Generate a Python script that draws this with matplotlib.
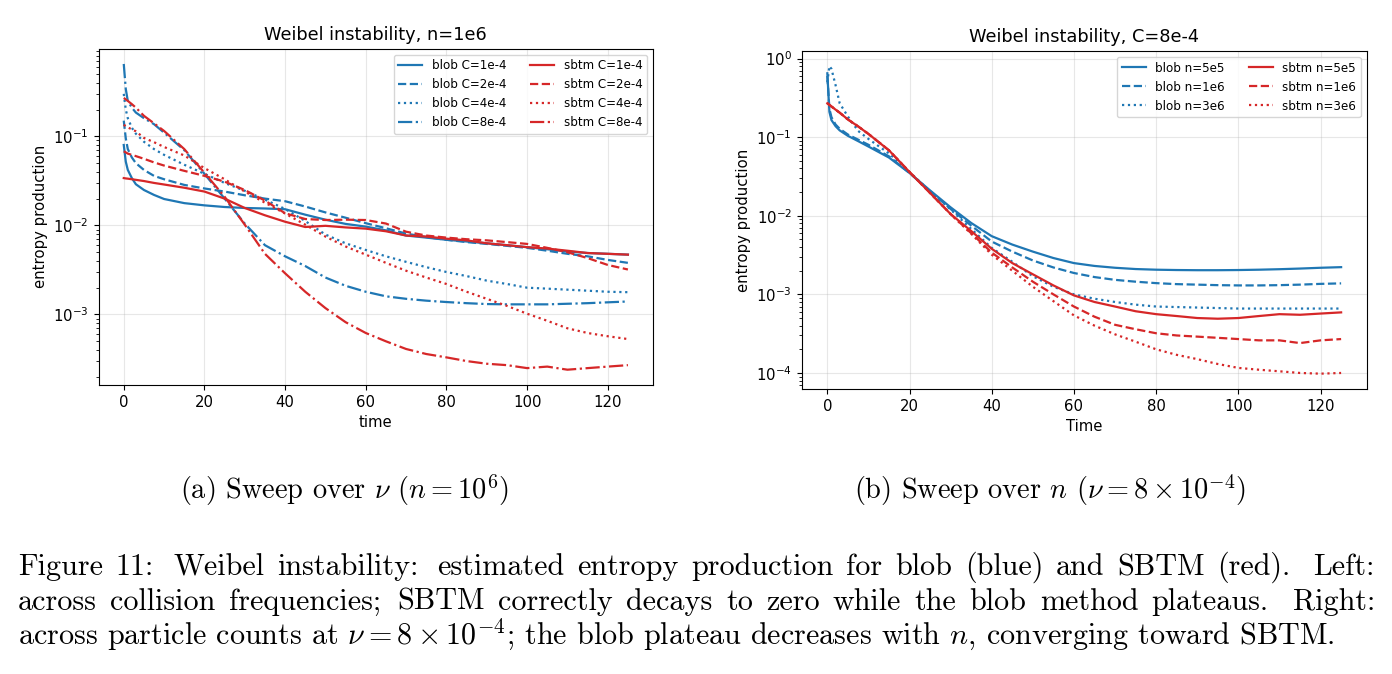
import matplotlib
matplotlib.use('Agg')
import matplotlib.pyplot as plt

plt.rcParams['mathtext.fontset'] = 'cm'

# time samples (both panels)
t = [0, 0.5, 1, 2, 3, 5, 7.5, 10, 15, 20, 25, 30, 35, 40, 45, 50, 55, 60,
     65, 70, 75, 80, 85, 90, 95, 100, 105, 110, 115, 120, 125]

# left panel: sweep over C, n=1e6
c_labels = ['C=1e-4', 'C=2e-4', 'C=4e-4', 'C=8e-4']
blob_c1 = [0.08, 0.052, 0.042, 0.034, 0.029, 0.025, 0.022, 0.0198, 0.0178, 0.0168, 0.0161,
           0.0157, 0.0155, 0.0152, 0.0132, 0.0116, 0.0104, 0.0097, 0.0088, 0.0077, 0.0073,
           0.0069, 0.0066, 0.0063, 0.006, 0.0057, 0.0054, 0.0051, 0.0049, 0.0048, 0.0047]
blob_c2 = [0.15, 0.095, 0.072, 0.058, 0.05, 0.042, 0.036, 0.033, 0.0285, 0.026, 0.024,
           0.0218, 0.02, 0.0187, 0.0163, 0.014, 0.0122, 0.0106, 0.0093, 0.0081, 0.0074,
           0.0069, 0.0065, 0.0062, 0.0059, 0.0056, 0.0052, 0.0048, 0.0045, 0.0041, 0.0038]
blob_c4 = [0.3, 0.2, 0.16, 0.125, 0.107, 0.087, 0.072, 0.062, 0.048, 0.038, 0.03,
           0.0245, 0.0195, 0.0153, 0.0112, 0.0079, 0.0063, 0.0053, 0.0045, 0.0039, 0.0034,
           0.003, 0.0027, 0.0024, 0.0022, 0.002, 0.00195, 0.0019, 0.00185, 0.0018, 0.00178]
blob_c8 = [0.65, 0.34, 0.25, 0.21, 0.185, 0.16, 0.137, 0.11, 0.07, 0.038, 0.02,
           0.0105, 0.006, 0.0045, 0.0035, 0.0026, 0.0021, 0.0018, 0.0016, 0.0015, 0.00143,
           0.00138, 0.00134, 0.00131, 0.0013, 0.0013, 0.0013, 0.00132, 0.00134, 0.00137, 0.0014]
sbtm_c1 = [0.034, 0.0337, 0.0335, 0.033, 0.0325, 0.0315, 0.03, 0.0288, 0.0265, 0.024, 0.02,
           0.0157, 0.013, 0.011, 0.0096, 0.0099, 0.0095, 0.0092, 0.0086, 0.0077, 0.0075,
           0.0071, 0.0068, 0.0063, 0.006, 0.0057, 0.0055, 0.0052, 0.0049, 0.0048, 0.0047]
sbtm_c2 = [0.068, 0.066, 0.064, 0.062, 0.06, 0.056, 0.051, 0.047, 0.041, 0.036, 0.031,
           0.025, 0.019, 0.0137, 0.0118, 0.0115, 0.0116, 0.0115, 0.0105, 0.0085, 0.0077,
           0.0073, 0.007, 0.0068, 0.0065, 0.0062, 0.0056, 0.005, 0.0043, 0.0036, 0.0032]
sbtm_c4 = [0.135, 0.13, 0.126, 0.12, 0.114, 0.096, 0.086, 0.076, 0.061, 0.044, 0.033,
           0.024, 0.018, 0.0136, 0.0102, 0.0075, 0.0058, 0.0047, 0.0038, 0.0031, 0.0026,
           0.0022, 0.0018, 0.0015, 0.00125, 0.00102, 0.00085, 0.0007, 0.00062, 0.00057, 0.00053]
sbtm_c8 = [0.27, 0.26, 0.25, 0.23, 0.21, 0.17, 0.14, 0.115, 0.072, 0.039, 0.021,
           0.0102, 0.0048, 0.0029, 0.0018, 0.00118, 0.00082, 0.00062, 0.0005, 0.00041, 0.00036,
           0.00033, 0.0003, 0.00028, 0.00027, 0.00025, 0.00026, 0.00024, 0.00025, 0.00026, 0.00027]

# right panel: sweep over n, C=8e-4
n_labels = ['n=5e5', 'n=1e6', 'n=3e6']
blob_n5e5 = [0.65, 0.21, 0.165, 0.138, 0.122, 0.104, 0.089, 0.076, 0.055, 0.035, 0.021,
             0.0128, 0.0081, 0.0055, 0.0043, 0.0035, 0.0029, 0.0025, 0.0023, 0.00218, 0.0021,
             0.00206, 0.00204, 0.00203, 0.00203, 0.00204, 0.00206, 0.00209, 0.00213, 0.00218, 0.00222]
blob_n1e6 = [0.6, 0.23, 0.18, 0.145, 0.128, 0.108, 0.093, 0.08, 0.057, 0.035, 0.0205,
             0.0122, 0.0075, 0.0047, 0.0035, 0.0027, 0.0022, 0.00187, 0.00166, 0.00153, 0.00145,
             0.00139, 0.00135, 0.00133, 0.00131, 0.0013, 0.0013, 0.00131, 0.00133, 0.00136, 0.00138]
blob_n3e6 = [0.5, 0.8, 0.74, 0.46, 0.27, 0.183, 0.12, 0.095, 0.062, 0.036, 0.0205,
             0.012, 0.0068, 0.0039, 0.0026, 0.0017, 0.00125, 0.001, 0.00088, 0.0008, 0.00074,
             0.0007, 0.00069, 0.00068, 0.00067, 0.00066, 0.00066, 0.00066, 0.00066, 0.00066, 0.00066]
sbtm_n5e5 = [0.27, 0.258, 0.246, 0.224, 0.205, 0.168, 0.137, 0.11, 0.068, 0.036, 0.0195,
             0.0105, 0.0064, 0.0038, 0.0025, 0.0018, 0.0013, 0.00097, 0.0008, 0.0007, 0.00061,
             0.00056, 0.00053, 0.0005, 0.00049, 0.0005, 0.00053, 0.00056, 0.00055, 0.00057, 0.00059]
sbtm_n1e6 = [0.27, 0.258, 0.246, 0.224, 0.205, 0.168, 0.137, 0.11, 0.068, 0.036, 0.0195,
             0.0105, 0.006, 0.0034, 0.0022, 0.00145, 0.001, 0.0007, 0.00052, 0.00041, 0.00036,
             0.00032, 0.0003, 0.00029, 0.00028, 0.00027, 0.00026, 0.00026, 0.00024, 0.00026, 0.00027]
sbtm_n3e6 = [0.27, 0.258, 0.246, 0.224, 0.205, 0.168, 0.137, 0.11, 0.068, 0.036, 0.0195,
             0.0105, 0.0059, 0.0032, 0.002, 0.00125, 0.00082, 0.00054, 0.0004, 0.00031, 0.00025,
             0.0002, 0.00017, 0.00015, 0.00013, 0.000116, 0.00011, 0.000105, 0.0001, 0.000098, 0.0001]

blue = '#1f77b4'
red = '#d62728'
styles = ['-', '--', ':', '-.']

fig = plt.figure(figsize=(13.92, 6.74), dpi=100)

# left plot
ax1 = fig.add_axes([0.0708, 0.4288, 0.3984, 0.499])
for y, lab, ls in zip([blob_c1, blob_c2, blob_c4, blob_c8], c_labels, styles):
    ax1.plot(t, y, color=blue, ls=ls, lw=1.6, label='blob ' + lab)
for y, lab, ls in zip([sbtm_c1, sbtm_c2, sbtm_c4, sbtm_c8], c_labels, styles):
    ax1.plot(t, y, color=red, ls=ls, lw=1.6, label='sbtm ' + lab)
ax1.set_yscale('log')
ax1.set_title('Weibel instability, n=1e6', fontsize=12.8)
ax1.set_xlabel('time', fontsize=10.7)
ax1.set_ylabel('entropy production', fontsize=10.7)
ax1.grid(True, alpha=0.3)
ax1.legend(ncol=2, fontsize=8.6, loc='upper right')

# right plot
ax2 = fig.add_axes([0.5759, 0.4228, 0.406, 0.5018])
for y, lab, ls in zip([blob_n5e5, blob_n1e6, blob_n3e6], n_labels, styles):
    ax2.plot(t, y, color=blue, ls=ls, lw=1.6, label='blob ' + lab)
for y, lab, ls in zip([sbtm_n5e5, sbtm_n1e6, sbtm_n3e6], n_labels, styles):
    ax2.plot(t, y, color=red, ls=ls, lw=1.6, label='sbtm ' + lab)
ax2.set_yscale('log')
ax2.set_title('Weibel instability, C=8e-4', fontsize=12.8)
ax2.set_xlabel('Time', fontsize=10.7)
ax2.set_ylabel('entropy production', fontsize=10.7)
ax2.grid(True, alpha=0.3)
ax2.legend(ncol=2, fontsize=8.6, loc='upper right')

for ax in (ax1, ax2):
    ax.tick_params(labelsize=10.7)

# captions
W, H = 1392, 674
sub = dict(fontfamily='cmr10', fontsize=20.4)
cap = dict(fontfamily='cmr10', fontsize=21.7)
fig.text(345 / W, 1 - 499 / H, r'(a) Sweep over $\nu$ ($n = 10^6$)', ha='center', va='baseline', **sub)
fig.text(1050 / W, 1 - 499 / H, r'(b) Sweep over $n$ ($\nu = 8 \times 10^{-4}$)', ha='center', va='baseline', **sub)

lines = [
    'Figure 11: Weibel instability: estimated entropy production for blob (blue) and SBTM (red). Left:',
    'across collision frequencies; SBTM correctly decays to zero while the blob method plateaus. Right:',
]
last = r'across particle counts at $\nu = 8 \times 10^{-4}$; the blob plateau decreases with $n$, converging toward SBTM.'

x0, x1 = 18, 1375
renderer = fig.canvas.get_renderer()
for line, yb in zip(lines, [575, 610]):
    words = line.split(' ')
    texts = [fig.text(0, 1 - yb / H, w, va='baseline', **cap) for w in words]
    widths = [tx.get_window_extent(renderer).width for tx in texts]
    # wider gaps after punctuation, like TeX
    weights = []
    for w in words[:-1]:
        if w.endswith('.'):
            weights.append(1.8)
        elif w.endswith(':'):
            weights.append(1.5)
        elif w.endswith(';'):
            weights.append(1.25)
        else:
            weights.append(1.0)
    gap = (x1 - x0 - sum(widths)) / sum(weights)
    x = x0
    for i, tx in enumerate(texts):
        tx.set_x(x / W)
        if i < len(weights):
            x += widths[i] + gap * weights[i]

fig.text(x0 / W, 1 - 645 / H, last, va='baseline', **cap)

fig.savefig('out.png', dpi=100)
